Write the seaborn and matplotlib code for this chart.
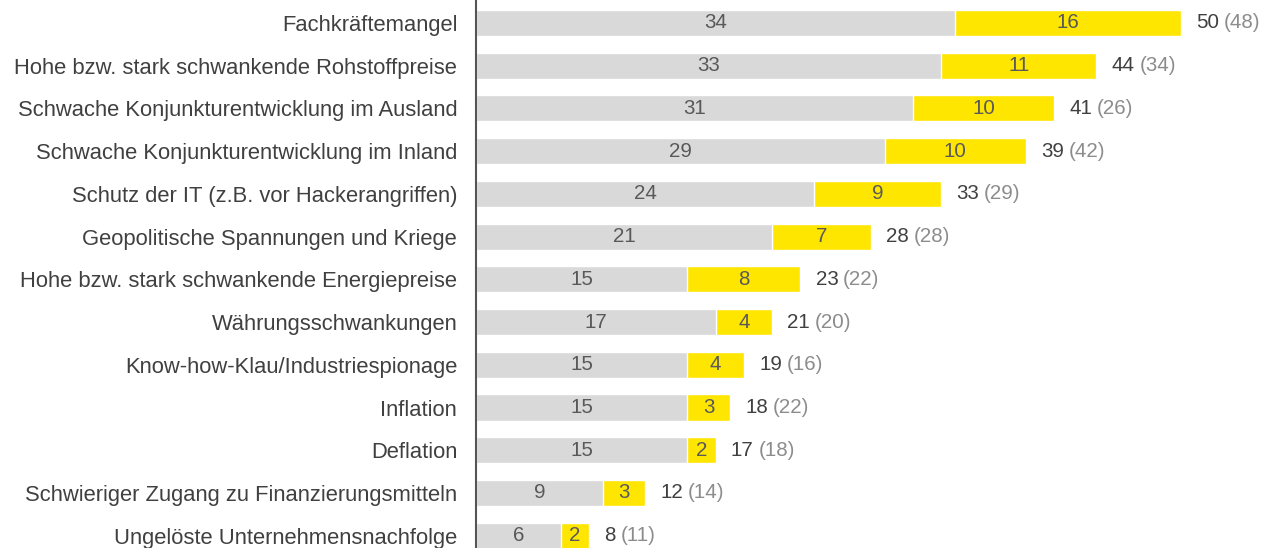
import pandas as pd
import seaborn as sns
import matplotlib.pyplot as plt

categories = ['Fachkräftemangel',
              'Hohe bzw. stark schwankende Rohstoffpreise',
              'Schwache Konjunkturentwicklung im Ausland',
              'Schwache Konjunkturentwicklung im Inland',
              'Schutz der IT (z.B. vor Hackerangriffen)',
              'Geopolitische Spannungen und Kriege',
              'Hohe bzw. stark schwankende Energiepreise',
              'Währungsschwankungen',
              'Know-how-Klau/Industriespionage',
              'Inflation',
              'Deflation',
              'Schwieriger Zugang zu Finanzierungsmitteln',
              'Ungelöste Unternehmensnachfolge']
gray_vals = [34, 33, 31, 29, 24, 21, 15, 17, 15, 15, 15, 9, 6]
yellow_vals = [16, 11, 10, 10, 9, 7, 8, 4, 4, 3, 2, 3, 2]
totals = [50, 44, 41, 39, 33, 28, 23, 21, 19, 18, 17, 12, 8]
prev_year = [48, 34, 26, 42, 29, 28, 22, 20, 16, 22, 18, 14, 11]

df = pd.DataFrame({'cat': categories, 'gray': gray_vals,
                   'yellow': yellow_vals, 'total': totals, 'prev': prev_year})

sns.set_style("white")
plt.rcParams['font.family'] = ['Liberation Sans', 'DejaVu Sans']

GRAY = '#d9d9d9'
YELLOW = '#ffe600'
FS = 15.8   # category labels
NFS = 14.8  # numbers
fig = plt.figure(figsize=(12.65, 5.48), dpi=100)
ax = fig.add_axes([476 / 1265, 0, 1 - 476 / 1265, 1])

# yellow = full total, gray drawn over it
sns.barplot(data=df, x='total', y='cat', color=YELLOW, width=0.61,
            saturation=1, ax=ax)
sns.barplot(data=df, x='gray', y='cat', color=GRAY, width=0.61,
            saturation=1, ax=ax)

for i, row in df.iterrows():
    ax.text(row['gray'] / 2, i, str(row['gray']), ha='center', va='center',
            fontsize=NFS, color='#595959')
    ax.text(row['gray'] + row['yellow'] / 2, i, str(row['yellow']),
            ha='center', va='center', fontsize=NFS, color='#595959')
    t = ax.annotate(str(row['total']), xy=(row['total'], i),
                    xytext=(11, 0), textcoords='offset points',
                    ha='left', va='center', fontsize=NFS, color='#404040')
    ax.annotate('(%d)' % row['prev'], xy=(1, 0), xycoords=t,
                xytext=(3.5, 0), textcoords='offset points',
                ha='left', va='bottom', fontsize=NFS, color='#8c8c8c')

ax.set_xlim(0, 55.96)
ax.set_ylim(12.288, -0.538)
ax.set_xlabel('')
ax.set_ylabel('')
ax.set_xticks([])
ax.tick_params(axis='y', length=0, pad=13.5, labelsize=FS, labelcolor='#404040')
for s in ['top', 'right', 'bottom']:
    ax.spines[s].set_visible(False)
ax.spines['left'].set_color('#555555')
ax.spines['left'].set_linewidth(1.5)

fig.savefig('out.png', dpi=100)
